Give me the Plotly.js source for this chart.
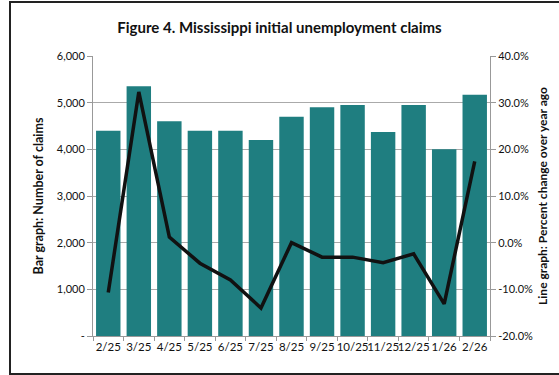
<!DOCTYPE html>
<html>
<head>
<meta charset="utf-8">
<script src="https://cdn.plot.ly/plotly-3.0.1.min.js"></script>
<style>
  html, body { margin: 0; padding: 0; background: #fff; }
  #wrap { position: relative; width: 559px; height: 375px; overflow: hidden; }
  #chart { position: absolute; left: 0; top: 0; width: 559px; height: 375px; }
  #frame { position: absolute; left: 9px; top: 1px; width: 560px; height: 370px;
           border-left: 2px solid #222; border-top: 2px solid #222; border-bottom: 2px solid #222;
           pointer-events: none; }
</style>
</head>
<body>
<div id="wrap">
  <div id="chart"></div>
  <div id="frame"></div>
</div>
<script>
const months = ["2/25","3/25","4/25","5/25","6/25","7/25","8/25","9/25","10/25","11/25","12/25","1/26","2/26"];
const claims = [4400, 5350, 4600, 4400, 4400, 4200, 4700, 4900, 4950, 4370, 4950, 4000, 5170];
const pctChange = [-10.7, 32.3, 1.2, -4.4, -8.0, -14.0, 0.0, -3.1, -3.1, -4.3, -2.4, -13.1, 17.4];
const leftTickVals = [0, 1000, 2000, 3000, 4000, 5000, 6000];
const leftTickText = ["-", "1,000", "2,000", "3,000", "4,000", "5,000", "6,000"];
const rightTickVals = [-20, -10, 0, 10, 20, 30, 40];
const rightTickText = ["-20.0%", "-10.0%", "0.0%", "10.0%", "20.0%", "30.0%", "40.0%"];

const font = "Lato, 'Open Sans', sans-serif";

const traces = [
  {
    type: "bar", x: months, y: claims, yaxis: "y",
    marker: { color: "#1f7e80" }
  },
  {
    type: "scatter", mode: "lines", x: months, y: pctChange, yaxis: "y2",
    line: { color: "#111", width: 3.5 }
  }
];

const layout = {
  width: 559, height: 375,
  margin: { l: 93, r: 69, t: 56, b: 39 },
  paper_bgcolor: "#fff", plot_bgcolor: "#fff",
  showlegend: false,
  bargap: 0.2,
  font: { family: font, size: 11, color: "#222" },
  title: {
    text: "<b>Figure 4. Mississippi initial unemployment claims</b>",
    x: 0.5, xanchor: "center", y: 0.925, yanchor: "middle",
    font: { family: font, size: 15, color: "#111" }
  },
  xaxis: {
    type: "category",
    showline: true, linecolor: "#999", linewidth: 1,
    ticks: "outside", ticklen: 4, tickcolor: "#999",
    tickson: "boundaries",
    tickangle: 0,
    showgrid: false,
    tickfont: { family: font, size: 11.5, color: "#111" }
  },
  yaxis: {
    range: [0, 6000],
    tickvals: leftTickVals, ticktext: leftTickText,
    showline: true, linecolor: "#999", linewidth: 1,
    ticks: "outside", ticklen: 5, tickcolor: "#999",
    showgrid: true, gridcolor: "#aaa", gridwidth: 1,
    zeroline: false,
    tickfont: { family: font, size: 11, color: "#111" },
    title: { text: "<b>Bar graph: Number of claims</b>", standoff: 10,
             font: { family: font, size: 12.5, color: "#111" } }
  },
  yaxis2: {
    overlaying: "y", side: "right",
    range: [-20, 40],
    tickvals: rightTickVals, ticktext: rightTickText,
    showline: true, linecolor: "#999", linewidth: 1,
    ticks: "outside", ticklen: 5, tickcolor: "#999",
    showgrid: false, zeroline: false,
    tickfont: { family: font, size: 11, color: "#111" },
    title: { text: "<b>Line graph: Percent change over year ago</b>", standoff: 6,
             font: { family: font, size: 12, color: "#111" } }
  }
};

Plotly.newPlot("chart", traces, layout, { displayModeBar: false, staticPlot: true });
</script>
</body>
</html>
